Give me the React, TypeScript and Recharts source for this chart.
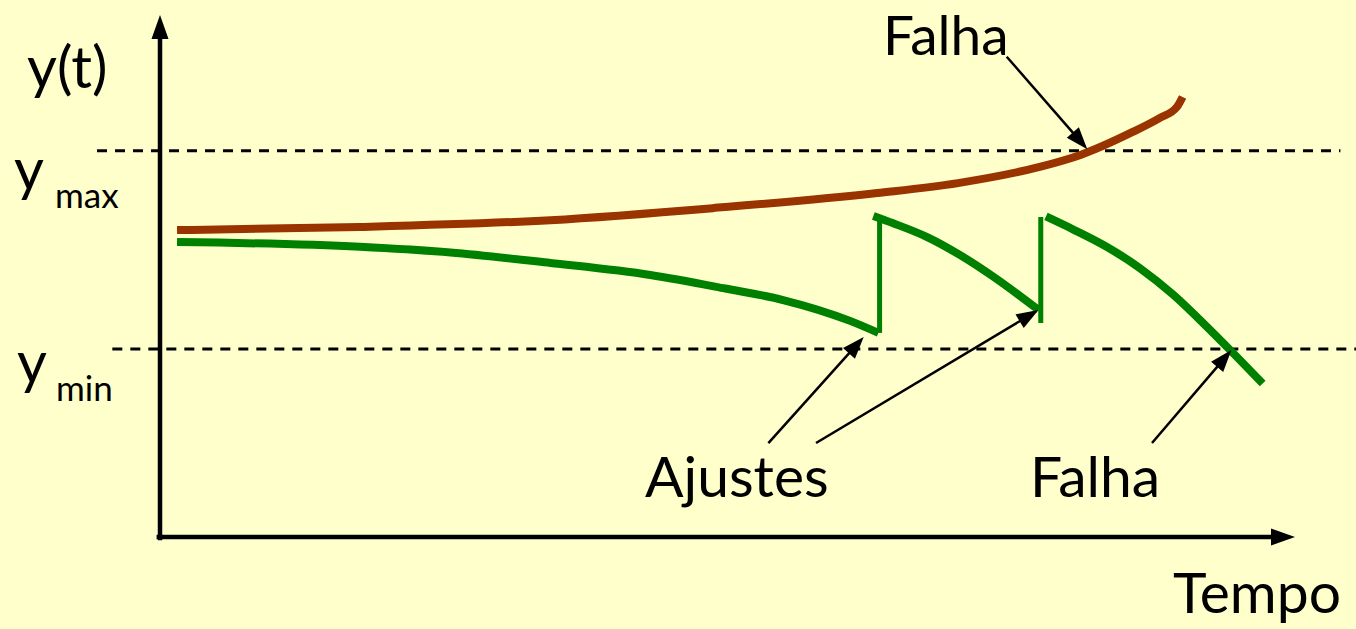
import { LineChart, Line, XAxis, YAxis, ReferenceLine } from "recharts"

// curva que sai por cima (falha por ymax)
const tMarrom = [0.15, 1.76, 3.44, 4.87, 6.32, 7.03, 7.75, 8.11, 8.57, 8.81, 8.96, 9.01]
const yMarrom = [5.88, 5.94, 6.07, 6.3, 6.59, 6.78, 7.09, 7.32, 7.76, 8.03, 8.24, 8.43]

// curva com ajustes (tres trechos)
const tVerde1 = [0.15, 1.76, 2.56, 3.44, 4.32, 4.98, 5.49, 6.08, 6.33]
const yVerde1 = [5.65, 5.56, 5.45, 5.25, 5.02, 4.76, 4.54, 4.14, 3.91]
const tVerde2 = [6.285, 6.46, 6.755, 7.05, 7.34, 7.74]
const yVerde2 = [6.15, 6.01, 5.75, 5.4, 4.99, 4.35]
const tVerde3 = [7.806, 8.047, 8.34, 8.634, 8.928, 9.222, 9.456, 9.715]
const yVerde3 = [6.14, 5.89, 5.56, 5.15, 4.64, 4.03, 3.52, 2.94]

// saltos dos ajustes
const tAjustes = [6.34, 7.76]
const yAjusteBase = [3.91, 4.1]
const yAjusteTopo = [6.11, 6.13]

const Y_MAX = 7.4
const Y_MIN = 3.6

const COR_FUNDO = "#FFFFCC"
const COR_MARROM = "#993300"
const COR_VERDE = "#008000"
const FONTE = "Lato, 'Open Sans', sans-serif"

const pontos = (ts: number[], ys: number[]) => ts.map((t, i) => ({ t, y: ys[i] }))

const seta = (cabeca: number, largura: number, espessura: number) => (p: any) => {
  const { x1, y1, x2, y2 } = p
  const dx = x2 - x1
  const dy = y2 - y1
  const len = Math.hypot(dx, dy) || 1
  const ux = dx / len
  const uy = dy / len
  const bx = x2 - ux * cabeca
  const by = y2 - uy * cabeca
  const nx = -uy * (largura / 2)
  const ny = ux * (largura / 2)
  return (
    <g>
      <line x1={x1} y1={y1} x2={bx + ux * 2} y2={by + uy * 2} stroke="#000" strokeWidth={espessura} />
      <polygon points={`${x2},${y2} ${bx + nx},${by + ny} ${bx - nx},${by - ny}`} fill="#000" />
    </g>
  )
}

const setas = [
  { de: [7.46, 9.2], para: [8.17, 7.43] },
  { de: [5.36, 1.8], para: [6.2, 3.83] },
  { de: [5.78, 1.8], para: [7.74, 4.35] },
  { de: [8.74, 1.8], para: [9.44, 3.58] },
]

const txt = { fontFamily: FONTE, fill: "#000" }

export default function App() {
  return (
    <div style={{ position: "absolute", left: 0, top: 0, width: 1356, height: 629, background: COR_FUNDO }}>
      <LineChart width={1356} height={629} margin={{ top: 15, right: 61, bottom: 92, left: 160 }}>
        <XAxis type="number" dataKey="t" domain={[0, 10]} hide allowDataOverflow />
        <YAxis type="number" dataKey="y" domain={[0, 10]} hide allowDataOverflow />

        <ReferenceLine segment={[{ x: -0.555, y: Y_MAX }, { x: 10.4, y: Y_MAX }]} stroke="#000" strokeWidth={3} strokeDasharray="10 8" ifOverflow="visible" />
        <ReferenceLine segment={[{ x: -0.42, y: Y_MIN }, { x: 10.6, y: Y_MIN }]} stroke="#000" strokeWidth={3} strokeDasharray="10 8" ifOverflow="visible" />

        <ReferenceLine segment={[{ x: 0, y: -0.06 }, { x: 0, y: 10 }]} ifOverflow="visible" shape={seta(24, 17, 4.5)} />
        <ReferenceLine segment={[{ x: -0.03, y: 0 }, { x: 10, y: 0 }]} ifOverflow="visible" shape={seta(24, 17, 4.5)} />

        <Line data={pontos(tMarrom, yMarrom)} dataKey="y" type="monotone" stroke={COR_MARROM} strokeWidth={8} dot={false} activeDot={false} isAnimationActive={false} />
        <Line data={pontos(tVerde1, yVerde1)} dataKey="y" type="monotone" stroke={COR_VERDE} strokeWidth={8} dot={false} activeDot={false} isAnimationActive={false} />
        <Line data={pontos(tVerde2, yVerde2)} dataKey="y" type="monotone" stroke={COR_VERDE} strokeWidth={8} dot={false} activeDot={false} isAnimationActive={false} />
        <Line data={pontos(tVerde3, yVerde3)} dataKey="y" type="monotone" stroke={COR_VERDE} strokeWidth={8} dot={false} activeDot={false} isAnimationActive={false} />
        {tAjustes.map((t, i) => (
          <Line key={i} data={[{ t, y: yAjusteBase[i] }, { t, y: yAjusteTopo[i] }]} dataKey="y" type="linear" stroke={COR_VERDE} strokeWidth={5} dot={false} activeDot={false} isAnimationActive={false} />
        ))}

        {setas.map((s, i) => (
          <ReferenceLine key={i} segment={[{ x: s.de[0], y: s.de[1] }, { x: s.para[0], y: s.para[1] }]} ifOverflow="visible" shape={seta(22, 16, 2.5)} />
        ))}

        <text x={27} y={88} fontSize={58} style={txt}>y(t)</text>
        <text x={14} y={190} fontSize={58} style={txt}>y</text>
        <text x={55} y={208} fontSize={35} style={txt}>max</text>
        <text x={17} y={383} fontSize={58} style={txt}>y</text>
        <text x={56} y={401} fontSize={35} style={txt}>min</text>
        <text x={883} y={55} fontSize={55} style={txt}>Falha</text>
        <text x={645} y={497} fontSize={57} style={txt}>Ajustes</text>
        <text x={1030} y={497} fontSize={57} style={txt}>Falha</text>
        <text x={1173} y={613} fontSize={57} style={txt}>Tempo</text>
      </LineChart>
    </div>
  )
}
